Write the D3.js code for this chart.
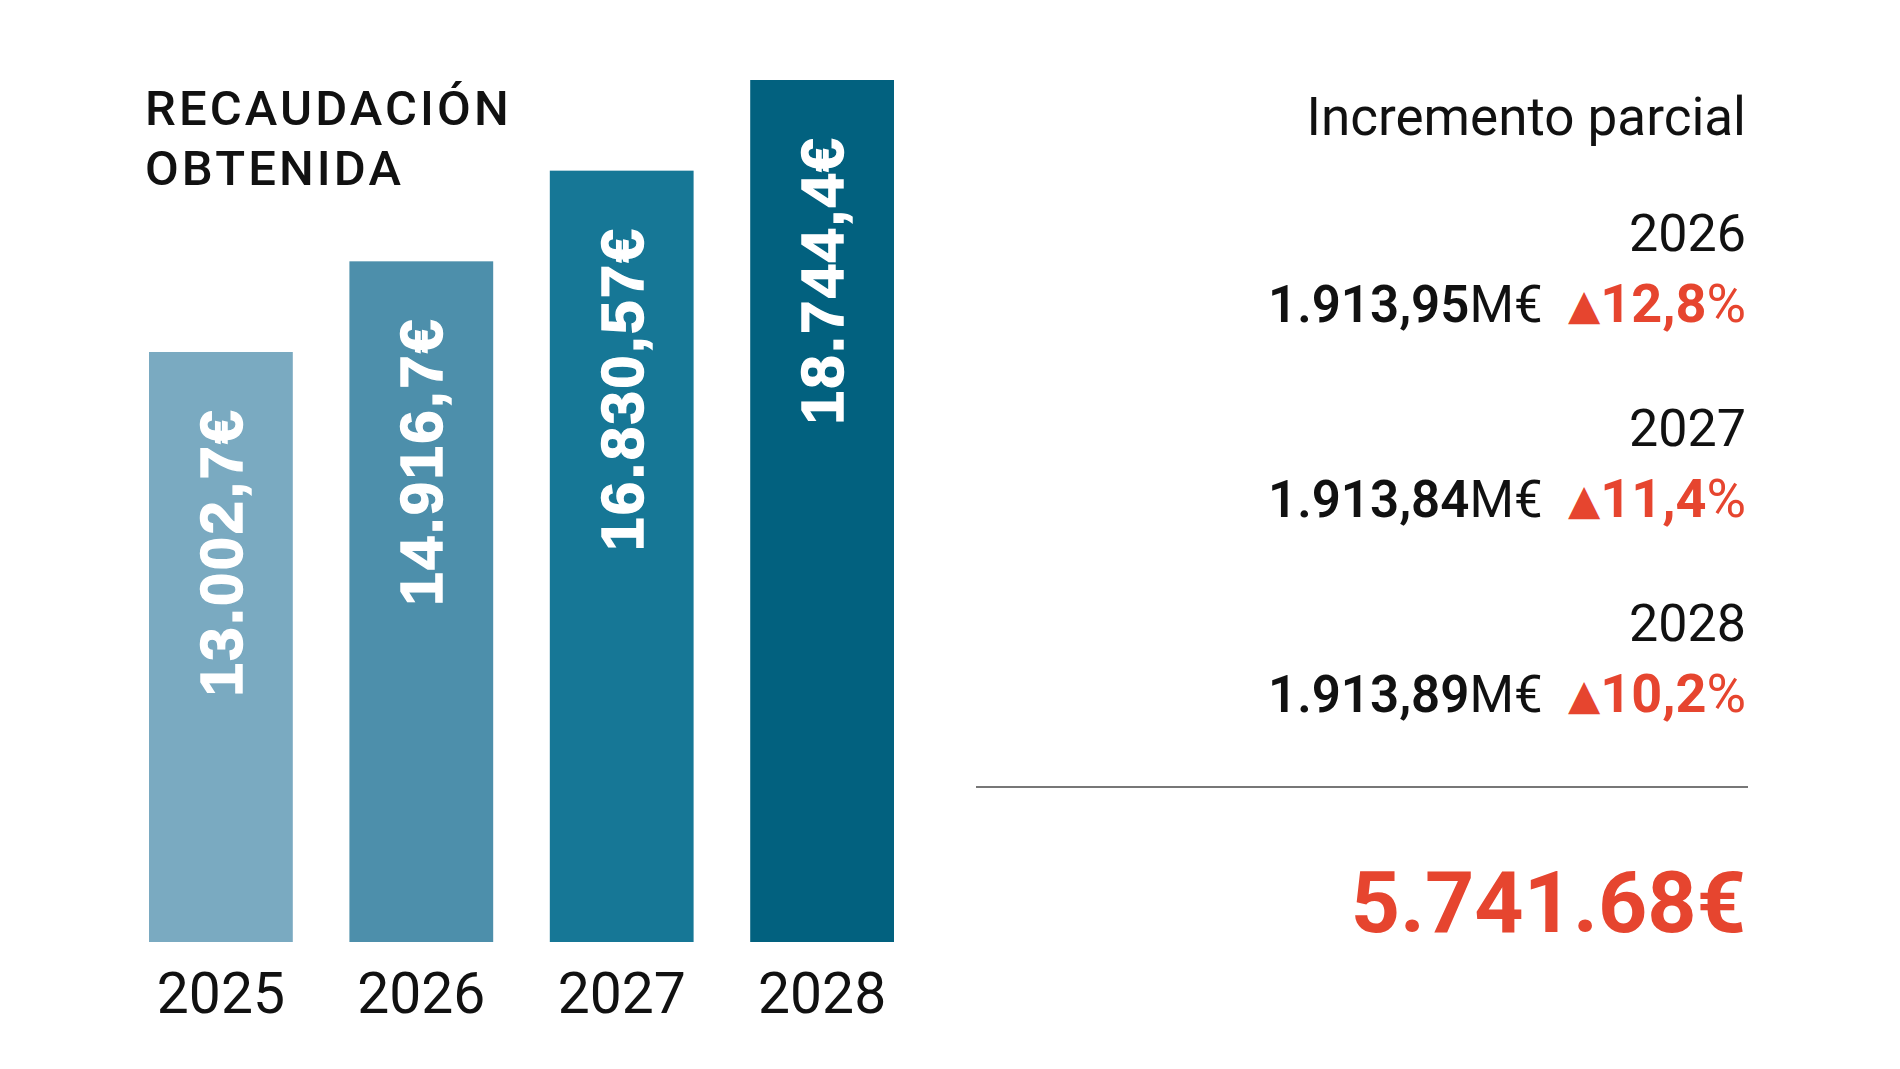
<!DOCTYPE html>
<html>
<head>
<meta charset="utf-8">
<script src="https://cdn.jsdelivr.net/npm/d3@7"></script>
<style>
  html, body { margin: 0; padding: 0; background: #fff; }
  svg { display: block; }
</style>
</head>
<body>
<div class="chart"></div>
<script>
// bars: recaudación obtenida por año
const years = ["2025", "2026", "2027", "2028"];
const totals = [13002.7, 14916.7, 16830.57, 18744.4];
const totalLabels = ["13.002,7€", "14.916,7€", "16.830,57€", "18.744,4€"];
const barColors = ["#7aaac1", "#4d8fab", "#167796", "#02617f"];

// right panel: incremento parcial
const incYears = ["2026", "2027", "2028"];
const incAmounts = ["1.913,95", "1.913,84", "1.913,89"];
const incPct = ["12,8", "11,4", "10,2"];
const grandTotal = "5.741.68€";

const width = 1900;
const height = 1069;
const red = "#e6452f";

const yFloor = 548; // bars do not start at zero in the original

const svg = d3.select(".chart")
    .append("svg")
    .attr("width", width)
    .attr("height", height);

const x = d3.scaleBand()
    .domain(years)
    .range([149, 894])
    .paddingInner(0.2825)
    .paddingOuter(0);

const y = d3.scaleLinear()
    .domain([yFloor, d3.max(totals)])
    .range([942, 80]);

const colScale = d3.scaleOrdinal()
    .domain(years)
    .range(barColors);

const bars = years.map((yr, i) => ({ year: yr, value: totals[i], label: totalLabels[i] }));

svg.selectAll(".bar")
    .data(bars)
    .enter()
    .append("rect")
    .attr("class", "bar")
    .attr("x", d => x(d.year))
    .attr("y", d => y(d.value))
    .attr("width", x.bandwidth())
    .attr("height", d => y.range()[0] - y(d.value))
    .style("fill", d => colScale(d.year));

// vertical value labels inside the bars
svg.selectAll(".barlabel")
    .data(bars)
    .enter()
    .append("text")
    .attr("class", "barlabel")
    .attr("transform", d => "translate(" + [x(d.year) + x.bandwidth() / 2 + 21, y(d.value) + 56] + ") rotate(-90)")
    .style("text-anchor", "end")
    .style("font-family", "'Liberation Sans', Arial, sans-serif")
    .style("font-weight", 700)
    .style("font-size", "60px")
    .style("letter-spacing", "2.4px")
    .style("fill", "#fff")
    .style("stroke", "#fff")
    .style("stroke-width", 1.4)
    .text(d => d.label);

// year labels under bars
svg.selectAll(".yearlabel")
    .data(years)
    .enter()
    .append("text")
    .attr("class", "yearlabel")
    .attr("x", d => x(d) + x.bandwidth() / 2)
    .attr("y", 1013)
    .style("text-anchor", "middle")
    .style("font-family", "Roboto, sans-serif")
    .style("font-size", "57px")
    .style("fill", "#111")
    .text(d => d);

// title
const title = svg.append("text")
    .style("font-family", "Roboto, sans-serif")
    .style("font-weight", 500)
    .style("font-size", "49px")
    .style("letter-spacing", "3.1px")
    .style("fill", "#111");
title.append("tspan").attr("x", 145).attr("y", 125).text("RECAUDACIÓN");
title.append("tspan").attr("x", 145).attr("y", 185).text("OBTENIDA");

// right panel
const rightEdge = 1746;

svg.append("text")
    .attr("x", rightEdge)
    .attr("y", 135)
    .style("text-anchor", "end")
    .style("font-family", "Roboto, sans-serif")
    .style("font-size", "53px")
    .style("fill", "#111")
    .text("Incremento parcial");

const rowY = d3.scalePoint()
    .domain(incYears)
    .range([251, 641]);

const rows = incYears.map((yr, i) => ({ year: yr, amount: incAmounts[i], pct: incPct[i] }));

svg.selectAll(".incyear")
    .data(rows)
    .enter()
    .append("text")
    .attr("class", "incyear")
    .attr("x", rightEdge)
    .attr("y", d => rowY(d.year))
    .style("text-anchor", "end")
    .style("font-family", "Roboto, sans-serif")
    .style("font-size", "52px")
    .style("fill", "#111")
    .text(d => d.year);

const inc = svg.selectAll(".incvalue")
    .data(rows)
    .enter()
    .append("text")
    .attr("class", "incvalue")
    .attr("x", rightEdge)
    .attr("y", d => rowY(d.year) + 71)
    .style("text-anchor", "end")
    .style("font-family", "Roboto, sans-serif")
    .style("font-size", "51px")
    .style("fill", "#111");

inc.append("tspan")
    .style("font-weight", 600)
    .text(d => d.amount);
inc.append("tspan")
    .text("M€\u00a0\u00a0");
inc.append("tspan")
    .attr("dy", -3)
    .style("font-family", "'DejaVu Sans', sans-serif")
    .style("font-size", "42px")
    .style("fill", red)
    .text("▲");
inc.append("tspan")
    .attr("dy", 3)
    .style("font-weight", 700)
    .style("font-size", "54px")
    .style("fill", red)
    .text(d => d.pct);
inc.append("tspan")
    .style("font-size", "54px")
    .style("fill", red)
    .text("%");

svg.append("line")
    .attr("x1", 976)
    .attr("x2", 1748)
    .attr("y1", 787)
    .attr("y2", 787)
    .style("stroke", "#777")
    .style("stroke-width", 2);

svg.append("text")
    .attr("x", rightEdge)
    .attr("y", 932)
    .style("text-anchor", "end")
    .style("font-family", "Roboto, sans-serif")
    .style("font-weight", 700)
    .style("font-size", "86px")
    .style("fill", red)
    .text(grandTotal);
</script>
</body>
</html>
